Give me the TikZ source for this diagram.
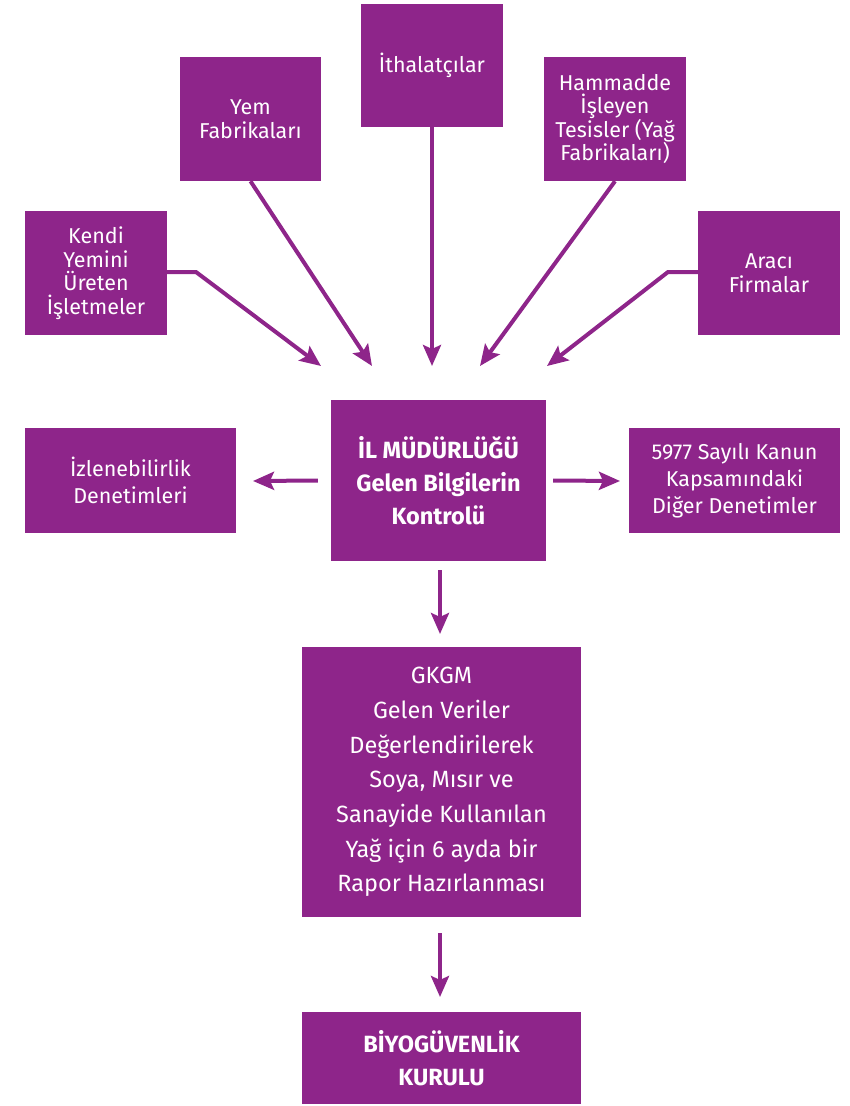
\documentclass[tikz,border=0pt]{standalone}
\usepackage{fontspec}
\setmainfont{Fira Sans}
\usetikzlibrary{arrows.meta}
\definecolor{pur}{RGB}{142,37,138}
\begin{document}
\begin{tikzpicture}[x=1pt,y=-1pt,
  box/.style={fill=pur, text=white, inner sep=0pt, align=center, anchor=center},
  small/.style={font=\fontsize{21.5}{23.5}\selectfont},
  mid/.style={font=\fontsize{21.5}{27}\selectfont},
  big/.style={font=\fontsize{23.5}{34.7}\selectfont},
  bigb/.style={font=\fontsize{23.5}{33}\selectfont\bfseries},
  arr/.style={draw=pur, line width=4pt, line join=miter, -{Stealth[length=21pt,width=18pt,inset=4pt]}}]
\useasboundingbox (0,0) rectangle (849,1106);
% top row
\node[box, small, minimum width=142pt, minimum height=124pt] (kendi) at (96,273) {Kendi\\Yemini\\Üreten\\İşletmeler};
\node[box, small, minimum width=141pt, minimum height=124pt] (yem) at (250.5,119) {Yem\\Fabrikaları};
\node[box, small, minimum width=142pt, minimum height=123pt] (ith) at (432,65.5) {İthalatçılar};
\node[box, small, minimum width=142pt, minimum height=124pt] (ham) at (615,119) {Hammadde\\İşleyen\\Tesisler (Yağ\\Fabrikaları)};
\node[box, small, minimum width=142pt, minimum height=124pt] (araci) at (769,273) {Aracı\\Firmalar};
% middle row
\node[box, bigb, minimum width=215pt, minimum height=161pt] (il) at (438.5,480.5) {İL MÜDÜRLÜĞÜ\\Gelen Bilgilerin\\Kontrolü};
\node[box, mid, minimum width=211pt, minimum height=105pt] (izl) at (130.5,480.5) {İzlenebilirlik\\Denetimleri};
\node[box, mid, minimum width=211pt, minimum height=105pt] (kanun) at (734.5,480.5) {5977 Sayılı Kanun\\Kapsamındaki\\Diğer Denetimler};
% lower
\node[box, big, minimum width=279pt, minimum height=270pt] (gkgm) at (441.5,782) {GKGM\\Gelen Veriler\\Değerlendirilerek\\Soya, Mısır ve\\Sanayide Kullanılan\\Yağ için 6 ayda bir\\Rapor Hazırlanması};
\node[box, bigb, minimum width=279pt, minimum height=92pt] (biyo) at (441.5,1058) {BİYOGÜVENLİK\\KURULU};
% arrow tips
\coordinate (t1) at (321,366);
\coordinate (t2) at (372,366);
\coordinate (t3) at (432,366);
\coordinate (t4) at (480,366);
\coordinate (t5) at (547,366);
\coordinate (s1) at (196,272);
\coordinate (s5) at (668,272);
\coordinate (tl) at (253,481);
\coordinate (tr) at (620,481);
\coordinate (td1) at (440,634);
\coordinate (td2) at (440,997);
% connectors
\draw[arr] (kendi.east |- s1) -- (s1) -- (t1);
\draw[arr] (yem.south) -- (t2);
\draw[arr] (ith.south) -- (t3);
\draw[arr] (ham.south) -- (t4);
\draw[arr] (araci.west |- s5) -- (s5) -- (t5);
\draw[arr] ([xshift=-13pt]il.west) -- (tl);
\draw[arr] ([xshift=7pt]il.east) -- (tr);
\draw[arr] ([yshift=-9pt,xshift=1.5pt]il.south) -- (td1);
\draw[arr] ([yshift=-16pt,xshift=-1.5pt]gkgm.south) -- (td2);
\end{tikzpicture}
\end{document}
